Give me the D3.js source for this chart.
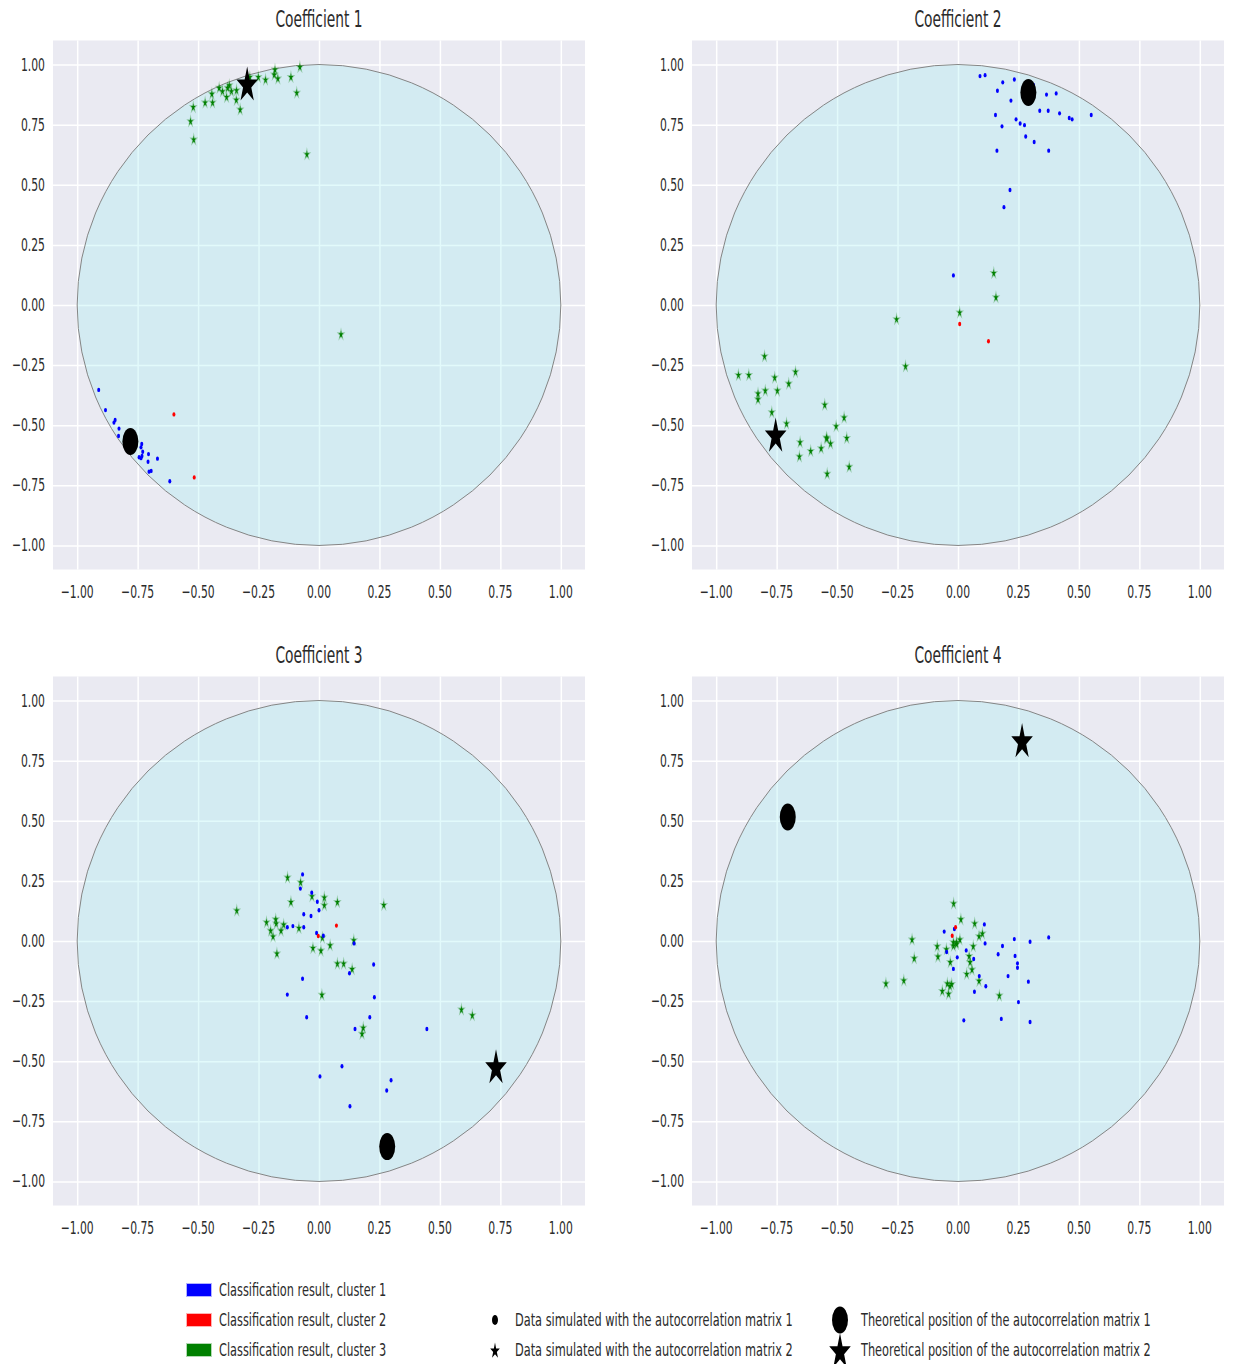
<!DOCTYPE html>
<html><head><meta charset="utf-8">
<script src="https://cdn.jsdelivr.net/npm/d3@7"></script>
<style>
body{margin:0;background:#ffffff}
text{font-family:"DejaVu Sans",sans-serif;fill:#2b2b2b}
</style>
</head><body>
<svg id="chart" width="1233" height="1364"></svg>
<script>
// ---------------- data ----------------
const titles = ["Coefficient 1","Coefficient 2","Coefficient 3","Coefficient 4"];
const tickValues = [-1.00,-0.75,-0.50,-0.25,0.00,0.25,0.50,0.75,1.00];
const clusterColors = ["#0000ff","#ff0000","#008000"];
const legendClusters = ["Classification result, cluster 1","Classification result, cluster 2","Classification result, cluster 3"];
const legendData = ["Data simulated with the autocorrelation matrix 1","Data simulated with the autocorrelation matrix 2"];
const legendTheory = ["Theoretical position of the autocorrelation matrix 1","Theoretical position of the autocorrelation matrix 2"];

// points simulated with matrix 1 (dots): [x, y, cluster]
const coef1Matrix1 = [[-0.911,-0.353,1],[-0.883,-0.437,1],[-0.848,-0.489,1],[-0.843,-0.478,1],[-0.827,-0.514,1],[-0.829,-0.545,1],[-0.733,-0.578,1],[-0.736,-0.592,1],[-0.729,-0.610,1],[-0.744,-0.633,1],[-0.736,-0.637,1],[-0.732,-0.628,1],[-0.705,-0.620,1],[-0.707,-0.652,1],[-0.668,-0.639,1],[-0.703,-0.693,1],[-0.694,-0.690,1],[-0.617,-0.733,1],[-0.600,-0.455,2],[-0.516,-0.717,2]];
const coef2Matrix1 = [[0.091,0.952,1],[0.112,0.956,1],[0.185,0.926,1],[0.233,0.938,1],[0.163,0.891,1],[0.312,0.915,1],[0.366,0.875,1],[0.406,0.880,1],[0.219,0.850,1],[0.155,0.790,1],[0.338,0.808,1],[0.373,0.808,1],[0.420,0.797,1],[0.460,0.778,1],[0.472,0.772,1],[0.551,0.790,1],[0.182,0.743,1],[0.240,0.772,1],[0.257,0.755,1],[0.275,0.748,1],[0.280,0.701,1],[0.315,0.678,1],[0.161,0.642,1],[0.375,0.642,1],[0.215,0.478,1],[0.190,0.407,1],[-0.019,0.123,1],[0.007,-0.079,2],[0.126,-0.151,2]];
const coef3Matrix1 = [[-0.068,0.277,1],[-0.077,0.218,1],[-0.030,0.201,1],[-0.007,0.163,1],[0.000,0.128,1],[-0.063,0.111,1],[-0.033,0.104,1],[-0.131,0.057,1],[-0.108,0.062,1],[-0.063,0.057,1],[-0.010,0.033,1],[0.018,0.022,1],[0.145,-0.010,1],[0.126,-0.134,1],[0.226,-0.098,1],[-0.068,-0.157,1],[-0.131,-0.223,1],[0.229,-0.234,1],[-0.051,-0.317,1],[0.210,-0.317,1],[0.149,-0.366,1],[0.446,-0.366,1],[0.095,-0.521,1],[0.004,-0.563,1],[0.298,-0.579,1],[0.280,-0.622,1],[0.128,-0.687,1],[0.072,0.064,2],[-0.003,0.021,2]];
const coef4Matrix1 = [[-0.015,0.050,1],[-0.057,0.039,1],[0.109,0.069,1],[0.112,-0.010,1],[0.184,-0.021,1],[0.233,0.008,1],[0.298,-0.003,1],[0.375,0.015,1],[-0.047,-0.046,1],[0.034,-0.039,1],[-0.003,-0.068,1],[0.065,-0.075,1],[0.166,-0.055,1],[0.236,-0.062,1],[0.246,-0.093,1],[0.246,-0.111,1],[-0.019,-0.116,1],[0.088,-0.146,1],[0.207,-0.146,1],[0.291,-0.169,1],[0.068,-0.211,1],[0.115,-0.188,1],[0.250,-0.254,1],[0.024,-0.330,1],[0.179,-0.324,1],[0.298,-0.337,1],[-0.010,0.057,2],[-0.024,0.022,2]];

// points simulated with matrix 2 (stars): [x, y, cluster]
const coef1Matrix2 = [[-0.520,0.824,3],[-0.531,0.765,3],[-0.518,0.689,3],[-0.471,0.843,3],[-0.440,0.843,3],[-0.443,0.879,3],[-0.413,0.904,3],[-0.399,0.890,3],[-0.382,0.866,3],[-0.378,0.904,3],[-0.371,0.915,3],[-0.362,0.890,3],[-0.341,0.894,3],[-0.342,0.854,3],[-0.326,0.814,3],[-0.286,0.949,3],[-0.251,0.949,3],[-0.221,0.938,3],[-0.182,0.980,3],[-0.185,0.959,3],[-0.170,0.943,3],[-0.116,0.949,3],[-0.079,0.991,3],[-0.092,0.884,3],[-0.050,0.628,3],[0.091,-0.121,3]];
const coef2Matrix2 = [[0.148,0.134,3],[0.157,0.033,3],[0.007,-0.030,3],[-0.254,-0.058,3],[-0.217,-0.254,3],[-0.800,-0.212,3],[-0.908,-0.290,3],[-0.865,-0.290,3],[-0.758,-0.301,3],[-0.672,-0.277,3],[-0.700,-0.326,3],[-0.827,-0.367,3],[-0.827,-0.391,3],[-0.797,-0.355,3],[-0.747,-0.355,3],[-0.770,-0.445,3],[-0.709,-0.492,3],[-0.551,-0.414,3],[-0.471,-0.467,3],[-0.504,-0.503,3],[-0.544,-0.550,3],[-0.542,-0.554,3],[-0.527,-0.575,3],[-0.460,-0.552,3],[-0.653,-0.570,3],[-0.609,-0.606,3],[-0.566,-0.595,3],[-0.656,-0.629,3],[-0.450,-0.672,3],[-0.541,-0.701,3]];
const coef3Matrix2 = [[-0.340,0.128,3],[-0.130,0.265,3],[-0.076,0.245,3],[-0.029,0.187,3],[0.022,0.182,3],[0.022,0.150,3],[0.076,0.163,3],[-0.116,0.163,3],[0.268,0.151,3],[-0.217,0.079,3],[-0.179,0.091,3],[-0.177,0.074,3],[-0.146,0.069,3],[-0.200,0.044,3],[-0.157,0.044,3],[-0.190,0.020,3],[-0.083,0.055,3],[0.014,0.015,3],[0.144,0.004,3],[0.046,-0.017,3],[-0.025,-0.028,3],[0.008,-0.039,3],[-0.174,-0.051,3],[0.076,-0.093,3],[0.102,-0.093,3],[0.137,-0.116,3],[0.012,-0.223,3],[0.183,-0.360,3],[0.178,-0.385,3],[0.589,-0.284,3],[0.634,-0.308,3]];
const coef4Matrix2 = [[-0.018,0.157,3],[0.012,0.091,3],[0.069,0.074,3],[0.101,0.032,3],[0.087,0.021,3],[-0.190,0.007,3],[-0.019,-0.004,3],[-0.006,-0.004,3],[-0.019,-0.019,3],[-0.006,-0.012,3],[0.008,0.007,3],[-0.086,-0.021,3],[-0.048,-0.033,3],[0.063,-0.021,3],[-0.083,-0.064,3],[-0.181,-0.071,3],[0.046,-0.062,3],[-0.032,-0.087,3],[0.050,-0.087,3],[0.058,-0.118,3],[0.036,-0.136,3],[0.087,-0.165,3],[-0.298,-0.176,3],[-0.224,-0.163,3],[-0.044,-0.176,3],[-0.026,-0.178,3],[-0.033,-0.186,3],[-0.065,-0.207,3],[-0.039,-0.219,3],[0.171,-0.226,3]];

// theoretical positions, one per coefficient
const theoryMatrix1 = [[-0.780,-0.568],[0.291,0.884],[0.282,-0.855],[-0.704,0.516]];
const theoryMatrix2 = [[-0.297,0.922],[-0.754,-0.538],[0.732,-0.520],[0.265,0.836]];

const matrix1Sets = [coef1Matrix1,coef2Matrix1,coef3Matrix1,coef4Matrix1];
const matrix2Sets = [coef1Matrix2,coef2Matrix2,coef3Matrix2,coef4Matrix2];

// ---------------- layout ----------------
const SX = 0.6; // horizontal text squeeze
const SXL = 0.63; // legend text squeeze
const svg = d3.select("#chart");
const plotW = 532, plotH = 529;
const origins = [[53,40.5],[692,40.5],[53,676.5],[692,676.5]];
const starSmall = d3.symbol(d3.symbolStar, 20)();
const starBig = d3.symbol(d3.symbolStar, 400)();

function label(g, x, y, str, size, anchor, sx){
  return g.append("text")
    .attr("transform", `translate(${x},${y}) scale(${sx || SX},1)`)
    .attr("text-anchor", anchor)
    .style("font-size", size + "px")
    .text(str);
}

titles.forEach((t, i) => {
  const [ox, oy] = origins[i];
  const g = svg.append("g").attr("transform", `translate(${ox},${oy})`);
  const x = d3.scaleLinear().domain([-1.1, 1.1]).range([0, plotW]);
  const y = d3.scaleLinear().domain([-1.1, 1.1]).range([plotH, 0]);

  g.append("rect").attr("width", plotW).attr("height", plotH).attr("fill", "#eaeaf2");

  // grid
  g.append("g").attr("transform", `translate(0,${plotH})`)
    .call(d3.axisBottom(x).tickValues(tickValues).tickSize(plotH).tickFormat(""))
    .call(a => { a.select(".domain").remove(); a.selectAll("line").attr("stroke", "#ffffff").attr("stroke-width", 1.5).attr("y2", -plotH); });
  g.append("g")
    .call(d3.axisLeft(y).tickValues(tickValues).tickSize(-plotW).tickFormat(""))
    .call(a => { a.select(".domain").remove(); a.selectAll("line").attr("stroke", "#ffffff").attr("stroke-width", 1.5); });

  // tick labels
  const fmt = d3.format(".2f");
  tickValues.forEach(v => {
    label(g, -8, y(v) + 6, fmt(v), 18, "end");
    label(g, x(v), plotH + 28, fmt(v), 18, "middle");
  });

  // unit circle
  g.append("ellipse")
    .attr("cx", x(0)).attr("cy", y(0))
    .attr("rx", x(1) - x(0)).attr("ry", y(0) - y(1))
    .attr("fill", "rgb(160,238,242)").attr("fill-opacity", 0.3)
    .attr("stroke", "#858585").attr("stroke-width", 1);

  // matrix 2 data: small stars
  g.selectAll(".s2").data(matrix2Sets[i]).join("path")
    .attr("d", starSmall)
    .attr("transform", d => `translate(${x(d[0])},${y(d[1]) + 0.5}) scale(${SX},1)`)
    .attr("fill", d => clusterColors[d[2] - 1])
    .attr("stroke", d => clusterColors[d[2] - 1]).attr("stroke-opacity", 0.3).attr("stroke-width", 2);

  // matrix 1 data: small dots
  g.selectAll(".s1").data(matrix1Sets[i]).join("ellipse")
    .attr("cx", d => x(d[0])).attr("cy", d => y(d[1]))
    .attr("rx", 1.5).attr("ry", 2.2)
    .attr("fill", d => clusterColors[d[2] - 1]);

  // theoretical positions
  const t1 = theoryMatrix1[i], t2 = theoryMatrix2[i];
  g.append("ellipse").attr("cx", x(t1[0])).attr("cy", y(t1[1])).attr("rx", 8).attr("ry", 13.5).attr("fill", "#000");
  g.append("path").attr("d", starBig)
    .attr("transform", `translate(${x(t2[0])},${y(t2[1]) + 2}) scale(${SX},1)`).attr("fill", "#000");

  // title
  label(g, plotW / 2, -13.5, t, 23, "middle");
});

// ---------------- legend ----------------
const lg = svg.append("g");
const rowY = [1290, 1320, 1350];
legendClusters.forEach((s, k) => {
  lg.append("rect").attr("x", 187).attr("y", rowY[k] - 6).attr("width", 24).attr("height", 12)
    .attr("fill", clusterColors[k]).attr("stroke", clusterColors[k]).attr("stroke-opacity", 0.3).attr("stroke-width", 2);
  label(lg, 219, rowY[k] + 6, s, 18, "start", SXL);
});
legendData.forEach((s, k) => {
  const yy = rowY[k + 1];
  if (k === 0) lg.append("ellipse").attr("cx", 495).attr("cy", yy).attr("rx", 3).attr("ry", 5).attr("fill", "#000");
  else lg.append("path").attr("d", d3.symbol(d3.symbolStar, 80)()).attr("transform", `translate(495,${yy + 1}) scale(${SX},1)`).attr("fill", "#000");
  label(lg, 515, yy + 6, s, 18, "start", SXL);
});
legendTheory.forEach((s, k) => {
  const yy = rowY[k + 1];
  if (k === 0) lg.append("ellipse").attr("cx", 840).attr("cy", yy).attr("rx", 8).attr("ry", 13.5).attr("fill", "#000");
  else lg.append("path").attr("d", starBig).attr("transform", `translate(840,${yy + 2}) scale(${SX},1)`).attr("fill", "#000");
  label(lg, 861, yy + 6, s, 18, "start", SXL);
});
</script>
</body></html>
